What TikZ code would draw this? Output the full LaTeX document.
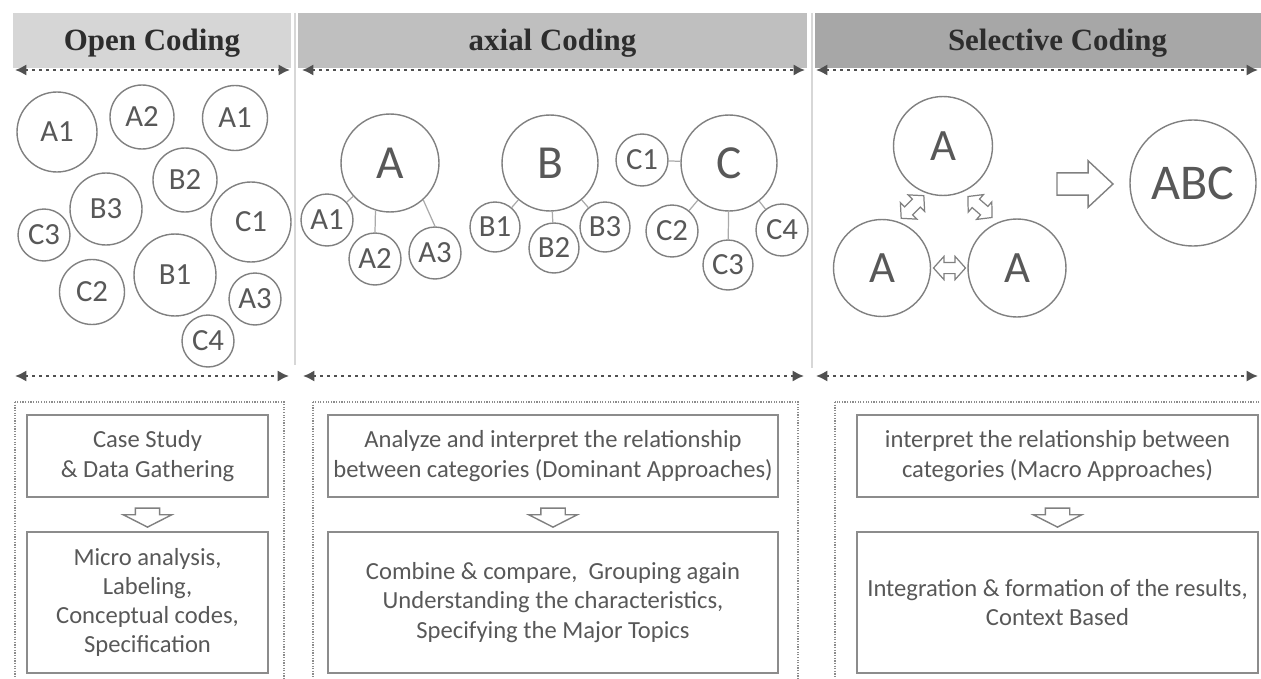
\documentclass[tikz,border=0pt]{standalone}
\usepackage{fontspec}
\setmainfont{Carlito}
\newfontfamily\headfont{Liberation Serif}
\usetikzlibrary{arrows.meta,shapes.arrows,calc}

\definecolor{barA}{RGB}{214,214,214}
\definecolor{barB}{RGB}{191,191,191}
\definecolor{barC}{RGB}{167,167,167}
\definecolor{inkgray}{RGB}{88,88,88}
\definecolor{headink}{RGB}{45,45,45}
\definecolor{ringgray}{RGB}{128,128,128}
\definecolor{boxgray}{RGB}{140,140,140}
\definecolor{tiegray}{RGB}{170,170,170}
\definecolor{spangray}{RGB}{80,80,80}
\definecolor{sepgray}{RGB}{215,215,215}

\begin{document}
\begin{tikzpicture}[
    x=0.02cm, y=-0.02cm,
    headbar/.style={rectangle, minimum height=1.1cm, inner sep=0pt, text=headink, font=\headfont\bfseries\fontsize{17.6}{20}\selectfont, text height=11.6pt, text depth=0pt},
    bub/.style={circle, draw=ringgray, line width=0.8pt, inner sep=0pt, text=inkgray, font=\fontsize{17.5}{20}\selectfont},
    hub/.style={bub, font=\fontsize{27}{30}\selectfont},
    tieline/.style={draw=tiegray, line width=0.7pt},
    spanarrow/.style={draw=spangray, line width=1.7pt, dash pattern=on 1.7pt off 2.3pt, {Latex[length=6.5pt,width=6.5pt]}-{Latex[length=6.5pt,width=6.5pt]}},
    lanebox/.style={draw=boxgray, line width=0.7pt, dash pattern=on 0.7pt off 0.8pt},
    notebox/.style={rectangle, draw=boxgray, line width=1.1pt, text=inkgray, align=center, inner sep=0pt, font=\fontsize{14}{16.6}\selectfont},
    downarr/.style={single arrow, draw=ringgray, line width=0.8pt, fill=white, inner xsep=0pt, inner ysep=0.23cm, minimum height=0.38cm, single arrow head extend=0.24cm, single arrow tip angle=126, rotate=-90},
    bigarr/.style={single arrow, draw=ringgray, line width=0.8pt, inner xsep=0pt, inner ysep=0.21cm, minimum height=1.12cm, single arrow head extend=0.24cm, single arrow tip angle=86},
    dblarr/.style={double arrow, draw=ringgray, line width=0.7pt, fill=white, inner xsep=0pt, inner ysep=0.1cm, minimum height=0.64cm, double arrow head extend=0.12cm, double arrow tip angle=96}
]
\useasboundingbox (0,0) rectangle (1261,679);
\clip (0,0) rectangle (1261,679);

% header bars
\node[headbar, fill=barA, minimum width=5.56cm] (hOpen) at (152,40.5) {Open Coding};
\node[headbar, fill=barB, minimum width=10.18cm] (hAxial) at (552.5,40.5) {axial Coding};
\node[headbar, fill=barC, minimum width=9.7cm] (hSel) at (1057.5,40.5) {Selective Coding};

% column separators
\draw[sepgray, line width=0.8pt] (295,13) -- (295,365);
\draw[sepgray, line width=0.8pt] (812,13) -- (812,368);

% dotted span arrows
\coordinate (t1a) at (15,70);   \coordinate (t1b) at (290,70);
\coordinate (t2a) at (302,70);  \coordinate (t2b) at (805,70);
\coordinate (t3a) at (816,70);  \coordinate (t3b) at (1258,70);
\coordinate (b1a) at (15,376);  \coordinate (b1b) at (289,376);
\coordinate (b2a) at (303,376); \coordinate (b2b) at (804,376);
\coordinate (b3a) at (816,376); \coordinate (b3b) at (1258,376);
\draw[spanarrow] (t1a) -- (t1b);
\draw[spanarrow] (t2a) -- (t2b);
\draw[spanarrow] (t3a) -- (t3b);
\draw[spanarrow] (b1a) -- (b1b);
\draw[spanarrow] (b2a) -- (b2b);
\draw[spanarrow] (b3a) -- (b3b);

% open coding: loose codes
\node[bub, minimum size=1.6cm]  (oA1)  at (57,132)  {A1};
\node[bub, minimum size=1.28cm] (oA2)  at (142,117) {A2};
\node[bub, minimum size=1.3cm]  (oA1b) at (235,118) {A1};
\node[bub, minimum size=1.28cm] (oB2)  at (185,180) {B2};
\node[bub, minimum size=1.44cm] (oB3)  at (106,209) {B3};
\node[bub, minimum size=1.6cm]  (oC1)  at (251,222) {C1};
\node[bub, minimum size=1.04cm] (oC3)  at (44,235)  {C3};
\node[bub, minimum size=1.3cm]  (oC2)  at (92,292)  {C2};
\node[bub, minimum size=1.64cm] (oB1)  at (175,275) {B1};
\node[bub, minimum size=1.04cm] (oA3)  at (255,299) {A3};
\node[bub, minimum size=1.04cm] (oC4)  at (208,341) {C4};

% axial coding: categories with their codes
\node[hub, minimum size=1.96cm] (aA)  at (390,163) {A};
\node[bub, minimum size=1.04cm] (aA1) at (327,220) {A1};
\node[bub, minimum size=1.04cm] (aA2) at (375,259) {A2};
\node[bub, minimum size=1.04cm] (aA3) at (435,253) {A3};
\node[hub, minimum size=1.92cm] (aB)  at (550,163) {B};
\node[bub, minimum size=1.0cm]  (aB1) at (495,227) {B1};
\node[bub, minimum size=1.0cm]  (aB2) at (554,248) {B2};
\node[bub, minimum size=1.0cm]  (aB3) at (605,227) {B3};
\node[hub, minimum size=1.92cm] (aC)  at (729,163) {C};
\node[bub, minimum size=1.04cm] (aC1) at (642,160) {C1};
\node[bub, minimum size=1.04cm] (aC2) at (672,231) {C2};
\node[bub, minimum size=1.0cm]  (aC3) at (728,265) {C3};
\node[bub, minimum size=1.04cm] (aC4) at (782,230) {C4};

\draw[tieline] (aA) -- (aA1);
\draw[tieline] (aA2.north) -- (aA.253);
\draw[tieline] (aA3.north) -- (aA.312);
\draw[tieline] (aB) -- (aB1);
\draw[tieline] (aB) -- (aB2);
\draw[tieline] (aB) -- (aB3);
\draw[tieline] (aC) -- (aC1);
\draw[tieline] (aC) -- (aC2);
\draw[tieline] (aC) -- (aC3);
\draw[tieline] (aC) -- (aC4);

% selective coding
\node[hub, minimum size=1.98cm, font=\fontsize{25.5}{28}\selectfont] (sT) at (943,146)  {A};
\node[hub, minimum size=1.94cm, font=\fontsize{25.5}{28}\selectfont] (sL) at (882,268)  {A};
\node[hub, minimum size=1.96cm, font=\fontsize{25.5}{28}\selectfont] (sR) at (1017,268) {A};
\node[hub, minimum size=2.52cm, font=\fontsize{28.5}{31}\selectfont] (sABC) at (1193,183) {ABC};

\node[dblarr, rotate=45]  (lnkL) at ($(sL)!.5!(sT)$) {};
\node[dblarr, rotate=-41] (lnkR) at ($(sT)!.5!(sR)$) {};
\node[dblarr]             (lnkB) at ($(sL)!.5!(sR)$) {};
\node[bigarr] (toABC) at (1079,184) {};

% dotted lanes
\draw[lanebox] (15,402) rectangle (284,700);
\draw[lanebox] (313,402) rectangle (798,700);
\draw[lanebox] (835,402) rectangle (1300,700);

% step boxes
\node[notebox, minimum width=4.82cm, minimum height=1.64cm] (o1) at (147.5,456) {Case Study\\\& Data Gathering};
\node[notebox, minimum width=4.82cm, minimum height=2.82cm] (o2) at (147.5,602.5) {Micro analysis,\\Labeling,\\Conceptual codes,\\Specification};
\node[notebox, minimum width=9cm, minimum height=1.64cm] (x1) at (553,456) {Analyze and interpret the relationship\\between categories (Dominant Approaches)};
\node[notebox, minimum width=9cm, minimum height=2.82cm] (x2) at (553,602.5) {Combine \& compare,\ \ Grouping again\\Understanding the characteristics,\\Specifying the Major Topics};
\node[notebox, minimum width=8.02cm, minimum height=1.64cm] (s1) at (1057.5,456) {interpret the relationship between\\categories (Macro Approaches)};
\node[notebox, minimum width=8.02cm, minimum height=2.82cm] (s2) at (1057.5,602.5) {Integration \& formation of the results,\\Context Based};

\node[downarr] (d1) at ($(o1.south)!.5!(o2.north)$) {};
\node[downarr] (d2) at ($(x1.south)!.5!(x2.north)$) {};
\node[downarr] (d3) at ($(s1.south)!.5!(s2.north)$) {};
\end{tikzpicture}
\end{document}
